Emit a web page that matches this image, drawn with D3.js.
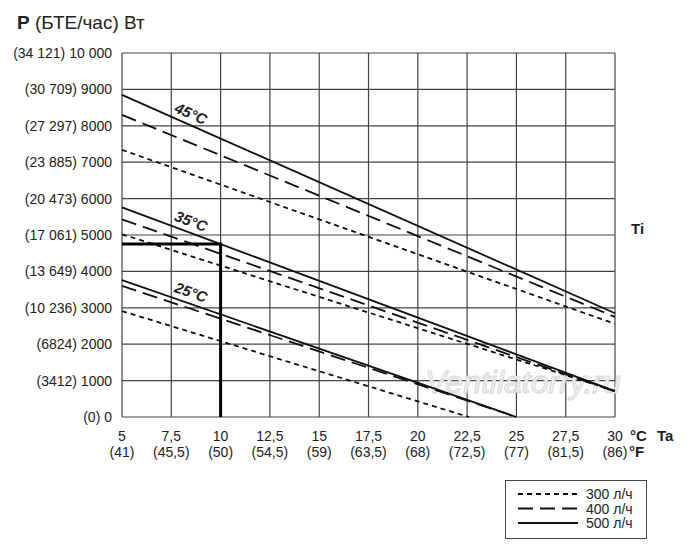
<!DOCTYPE html>
<html>
<head>
<meta charset="utf-8">
<script src="https://cdn.jsdelivr.net/npm/d3@7"></script>
<style>
  body { margin: 0; background: #fff; }
  text { font-family: "Liberation Sans", Arial, sans-serif; fill: #222; }
</style>
</head>
<body>
<svg width="700" height="558"></svg>
<script>
// tick values and labels
const xTicks = [5, 7.5, 10, 12.5, 15, 17.5, 20, 22.5, 25, 27.5, 30];
const xTickC = ["5", "7,5", "10", "12,5", "15", "17,5", "20", "22,5", "25", "27,5", "30"];
const xTickF = ["(41)", "(45,5)", "(50)", "(54,5)", "(59)", "(63,5)", "(68)", "(72,5)", "(77)", "(81,5)", "(86)"];
const yTicks = [0, 1000, 2000, 3000, 4000, 5000, 6000, 7000, 8000, 9000, 10000];
const yTickLabels = ["(0) 0", "(3412) 1000", "(6824) 2000", "(10 236) 3000", "(13 649) 4000",
  "(17 061) 5000", "(20 473) 6000", "(23 885) 7000", "(27 297) 8000", "(30 709) 9000", "(34 121) 10 000"];

// curves: [Ta, P] pairs, Ti = 45 / 35 / 25 °C, flow 300 / 400 / 500 l/h
const ti45_300 = [[5, 7340], [30, 2560]];
const ti45_400 = [[5, 8300], [30, 2750]];
const ti45_500 = [[5, 8850], [30, 2850]];
const ti35_300 = [[5, 5020], [30, 720]];
const ti35_400 = [[5, 5430], [30, 700]];
const ti35_500 = [[5, 5760], [30, 710]];
const ti25_300 = [[5, 2910], [22.6, 0]];
const ti25_400 = [[5, 3600], [25, 0]];
const ti25_500 = [[5, 3760], [25, 0]];

// example point: Ta 10 °C, Ti 35 °C, 500 l/h
const exampleTa = 10;
const exampleP = 4750;

const flowLabels = ["300 л/ч", "400 л/ч", "500 л/ч"];

const svg = d3.select("svg");

const x = d3.scaleLinear().domain([5, 30]).range([122, 615]);
const y = d3.scaleLinear().domain([0, 10000]).range([417, 53]);

const dashes = ["5,4", "15,7", null];

// grid
const g = svg.append("g");
g.selectAll(".vgrid")
  .data(xTicks)
  .join("line")
  .attr("x1", d => x(d)).attr("x2", d => x(d))
  .attr("y1", y(0)).attr("y2", y(10000))
  .attr("stroke", "#444").attr("stroke-width", 1.2);
g.selectAll(".hgrid")
  .data(yTicks)
  .join("line")
  .attr("x1", x(5)).attr("x2", x(30))
  .attr("y1", d => y(d)).attr("y2", d => y(d))
  .attr("stroke", "#444").attr("stroke-width", 1.2);

// watermark
svg.append("text")
  .attr("x", 523).attr("y", 393)
  .attr("text-anchor", "middle")
  .attr("font-size", 32)
  .attr("font-style", "italic")
  .style("fill", "#f2f2f2")
  .attr("stroke", "#d6d6d6")
  .attr("stroke-width", 1)
  .text("Ventilatorry.ru");

// y axis labels
svg.selectAll(".ylab")
  .data(yTicks)
  .join("text")
  .attr("x", 112)
  .attr("y", d => y(d) + 5)
  .attr("text-anchor", "end")
  .attr("font-size", 14)
  .text((d, i) => yTickLabels[i]);

// x axis labels
svg.selectAll(".xlabc")
  .data(xTicks)
  .join("text")
  .attr("x", d => x(d))
  .attr("y", 441)
  .attr("text-anchor", "middle")
  .attr("font-size", 14)
  .text((d, i) => xTickC[i]);
svg.selectAll(".xlabf")
  .data(xTicks)
  .join("text")
  .attr("x", d => x(d))
  .attr("y", 457)
  .attr("text-anchor", "middle")
  .attr("font-size", 14)
  .text((d, i) => xTickF[i]);

// curves
const line = d3.line().x(d => x(d[0])).y(d => y(d[1]));
const groups = [
  [ti45_300, ti45_400, ti45_500],
  [ti35_300, ti35_400, ti35_500],
  [ti25_300, ti25_400, ti25_500]
];
groups.forEach(function(grp) {
  grp.forEach(function(pts, k) {
    svg.append("path")
      .attr("d", line(pts))
      .attr("fill", "none")
      .attr("stroke", "#111")
      .attr("stroke-width", 1.8)
      .attr("stroke-dasharray", dashes[k]);
  });
});

// example marker
svg.append("path")
  .attr("d", line([[5, exampleP], [exampleTa, exampleP], [exampleTa, 0]]))
  .attr("fill", "none")
  .attr("stroke", "#000")
  .attr("stroke-width", 3);

// Ti labels along the solid curves
const tiLabels = ["45°C", "35°C", "25°C"];
const solids = [ti45_500, ti35_500, ti25_500];
solids.forEach(function(pts, i) {
  const ta = 8.5;
  const t = (ta - pts[0][0]) / (pts[1][0] - pts[0][0]);
  const p = pts[0][1] + t * (pts[1][1] - pts[0][1]);
  const ang = Math.atan2(y(pts[1][1]) - y(pts[0][1]), x(pts[1][0]) - x(pts[0][0])) * 180 / Math.PI;
  svg.append("text")
    .attr("transform", "translate(" + x(ta) + "," + (y(p) - 12) + ") rotate(" + ang + ")")
    .attr("text-anchor", "middle")
    .attr("dominant-baseline", "central")
    .attr("font-size", 15)
    .attr("font-weight", "bold")
    .attr("font-style", "italic")
    .text(tiLabels[i]);
});

// titles
const title = svg.append("text").attr("x", 17).attr("y", 29).attr("font-size", 19);
title.append("tspan").attr("font-weight", "bold").text("P");
title.append("tspan").text(" (БТЕ/час) Вт");

svg.append("text").attr("x", 631).attr("y", 234).attr("font-size", 15).attr("font-weight", "bold").text("Ti");
svg.append("text").attr("x", 630).attr("y", 441).attr("font-size", 15).attr("font-weight", "bold").text("°C");
svg.append("text").attr("x", 657).attr("y", 441).attr("font-size", 15).attr("font-weight", "bold").text("Ta");
svg.append("text").attr("x", 629).attr("y", 457).attr("font-size", 15).attr("font-weight", "bold").text("°F");

// legend
const legend = svg.append("g");
legend.append("rect")
  .attr("x", 505.5).attr("y", 480.5)
  .attr("width", 141).attr("height", 58)
  .attr("fill", "none").attr("stroke", "#444").attr("stroke-width", 1);
flowLabels.forEach(function(lab, k) {
  const ly = 494 + k * 14.5;
  legend.append("line")
    .attr("x1", 518).attr("x2", 578)
    .attr("y1", ly).attr("y2", ly)
    .attr("stroke", "#111").attr("stroke-width", 1.8)
    .attr("stroke-dasharray", dashes[k]);
  legend.append("text")
    .attr("x", 586).attr("y", ly + 5)
    .attr("font-size", 14)
    .text(lab);
});
</script>
</body>
</html>
